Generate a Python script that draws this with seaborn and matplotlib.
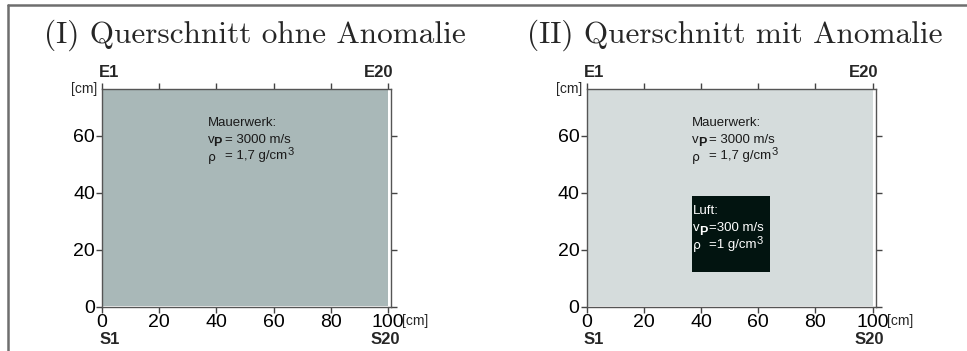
import matplotlib
matplotlib.use("Agg")
import matplotlib.pyplot as plt
import seaborn as sns
from matplotlib.lines import Line2D
from matplotlib import font_manager

# ---- data ----
panel_titles = ["(I) Querschnitt ohne Anomalie", "(II) Querschnitt mit Anomalie"]
wall_x = [0, 100]          # cm
wall_height = 76.5         # cm
anomaly_x = [37, 64]       # cm
anomaly_y = [12, 39]       # cm
x_ticks = [0, 20, 40, 60, 80, 100]
y_ticks = [0, 20, 40, 60]
top_labels = ["E1", "E20"]
bottom_labels = ["S1", "S20"]
wall_text = ["Mauerwerk:", "= 3000 m/s", "= 1,7 g/cm", "3"]
air_text = ["Luft:", "=300 m/s", "=1 g/cm", "3"]
wall_colors = ["#a9b8b8", "#d5dcdc"]
air_color = "#021410"

sns.set_theme(style="ticks")
plt.rcParams["font.family"] = ["Liberation Sans", "DejaVu Sans"]

names = {f.name for f in font_manager.fontManager.ttflist}
narrow = "Liberation Sans Narrow" if "Liberation Sans Narrow" in names else "Liberation Sans"
nsize = 10 if narrow != "Liberation Sans" else 9.5

W, H = 967, 351
fig = plt.figure(figsize=(W / 100, H / 100), dpi=100)

# frame lines of the figure
fig.add_artist(Line2D([8 / W, 1.0], [1 - 5 / H, 1 - 5 / H], color="#6e6e6e", lw=1.8))
fig.add_artist(Line2D([8 / W, 8 / W], [0, 1 - 5 / H], color="#6e6e6e", lw=1.8))


def block(ax, x, y, lines, color, eq_dx, step):
    """three-line material label with manual sub/superscripts (offsets in points)"""
    kw = dict(xy=(x, y), xycoords="data", textcoords="offset points",
              color=color, family=narrow, fontsize=nsize, va="center", ha="left")
    ax.annotate(lines[0], xytext=(0, 0), **kw)
    ax.annotate("v", xytext=(0, -step), **kw)
    kwb = dict(kw, fontweight="bold", fontsize=nsize - 0.5)
    ax.annotate("P", xytext=(4.0, -step - 2.8), **kwb)
    ax.annotate(lines[1], xytext=(eq_dx, -step), **kw)
    ax.annotate("\u03c1", xytext=(0, -2 * step - 1),
                **dict(kw, family="DejaVu Sans", fontsize=nsize - 0.5))
    ax.annotate(lines[2], xytext=(eq_dx, -2 * step), **kw)


lefts = [102, 586.5]
title_cx = [255, 735]
for i in range(2):
    ax = fig.add_axes([lefts[i] / W, 44.5 / H, 289 / W, 217.5 / H])
    ax.fill_between(wall_x, 0, wall_height, color=wall_colors[i], lw=0)
    block(ax, 37, 64.5, wall_text, "#1a1a1a", 12.0, 11.8)
    if i == 1:
        ax.fill_between(anomaly_x, anomaly_y[0], anomaly_y[1], color=air_color, lw=0)
        block(ax, 37.3, 33.5, air_text, "white", 11.0, 12.0)
    ax.set_xlim(0, 101)
    ax.set_ylim(0, wall_height)
    ax.set_xticks(x_ticks)
    ax.set_yticks(y_ticks)
    ax.tick_params(axis="both", which="both", direction="out", length=4, width=1,
                   color="#444444", labelsize=14, pad=1, top=True, right=True,
                   labelcolor="black")
    ax.tick_params(axis="x", pad=1.5)
    for s in ax.spines.values():
        s.set_color("#555555")
        s.set_linewidth(1.0)
    ax.set_xlabel("")
    ax.set_ylabel("")
    # station labels
    ax.text(wall_x[0] - 1, 1.077, top_labels[0], transform=ax.get_xaxis_transform(),
            fontsize=12, fontweight="bold", ha="left", va="center")
    ax.text(wall_x[1] + 2, 1.077, top_labels[1], transform=ax.get_xaxis_transform(),
            fontsize=12, fontweight="bold", ha="right", va="center")
    ax.text(wall_x[0] - 1, -0.153, bottom_labels[0], transform=ax.get_xaxis_transform(),
            fontsize=12, fontweight="bold", ha="left", va="center")
    ax.text(wall_x[1] + 4, -0.153, bottom_labels[1], transform=ax.get_xaxis_transform(),
            fontsize=12, fontweight="bold", ha="right", va="center")
    # unit labels
    ax.text(-1.5, 1.0, "[cm]", transform=ax.get_xaxis_transform(), fontsize=10,
            ha="right", va="center")
    ax.text(105, -0.065, "[cm]", transform=ax.get_xaxis_transform(), fontsize=10,
            ha="left", va="center")
    fig.text(title_cx[i] / W, 1 - 35 / H, panel_titles[i], family="cmr10",
             fontsize=22.5, ha="center", va="center")

# superscripts "3" placed right after the g/cm texts
fig.canvas.draw()
for ax in fig.axes:
    for t in list(ax.texts):
        if t.get_text() in ("= 1,7 g/cm", "=1 g/cm"):
            bb = t.get_window_extent()
            inv = ax.transData.inverted()
            x1, yc = inv.transform((bb.x1 + 0.5, (bb.y0 + bb.y1) / 2 + 3.5))
            ax.text(x1, yc, "3", color=t.get_color(), family=narrow,
                    fontsize=nsize - 1.5, ha="left", va="center")

fig.savefig("out.png", dpi=100)
